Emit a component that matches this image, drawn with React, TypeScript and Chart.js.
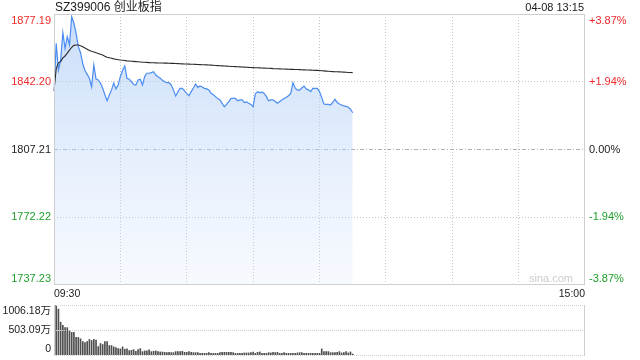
import React, { useEffect, useRef } from 'react';
import { Chart, registerables } from 'chart.js';

Chart.register(...registerables);

const FONT = '"Liberation Sans", Arial, "Noto Sans CJK SC", sans-serif';

const TITLE = 'SZ399006 创业板指';
const STAMP = '04-08 13:15';
const WATERMARK = 'sina.com';
const PREV_CLOSE = 1807.21;
const PRICE_TICKS = [1737.23, 1772.22, 1807.21, 1842.2, 1877.19];
const PRICE_TICK_LABELS = ['1737.23', '1772.22', '1807.21', '1842.20', '1877.19'];
const PCT_TICK_LABELS = ['-3.87%', '-1.94%', '0.00%', '+1.94%', '+3.87%'];
const VOL_TICKS = [0, 503.09, 1006.18];
const VOL_TICK_LABELS = ['0', '503.09万', '1006.18万'];
const TIME_TICK_LABELS = ['09:30', '15:00'];

const buildMinutes = (): string[] => {
  const out: string[] = [];
  const pad = (n: number) => String(n).padStart(2, '0');
  for (let m = 9 * 60 + 30; m <= 11 * 60 + 30; m++) out.push(`${pad(Math.floor(m / 60))}:${pad(m % 60)}`);
  for (let m = 13 * 60 + 1; m <= 15 * 60; m++) out.push(`${pad(Math.floor(m / 60))}:${pad(m % 60)}`);
  return out;
};
const MINUTES = buildMinutes();

const PRICE = [
  1837.4, 1862.1, 1848.3, 1853.4, 1867.5, 1859.5, 1865.5, 1861.2, 1875.8, 1872.4,
  1867.2, 1860.3, 1857.2, 1851.5, 1848.0, 1846.0, 1844.0, 1839.6, 1850.9, 1843.6,
  1843.1, 1841.5, 1838.8, 1835.5, 1832.4, 1835.4, 1838.0, 1841.5, 1838.5, 1840.5,
  1845.0, 1848.0, 1850.4, 1844.0, 1843.5, 1842.3, 1840.8, 1840.5, 1843.1, 1843.5,
  1840.5, 1845.0, 1846.6, 1846.6, 1846.9, 1847.4, 1845.7, 1844.8, 1844.0, 1843.0,
  1842.2, 1841.7, 1841.7, 1840.5, 1838.0, 1834.8, 1837.0, 1838.8, 1838.8, 1837.5,
  1836.2, 1835.0, 1837.1, 1839.0, 1841.0, 1839.3, 1840.0, 1839.5, 1838.8, 1838.5,
  1837.9, 1836.2, 1835.5, 1834.5, 1833.5, 1832.8, 1831.0, 1829.3, 1830.5, 1831.9,
  1833.6, 1833.6, 1833.6, 1832.4, 1832.8, 1832.8, 1831.4, 1831.8, 1831.1, 1830.5,
  1829.3, 1836.0, 1837.1, 1836.6, 1836.8, 1836.2, 1834.5, 1832.4, 1832.8, 1832.8,
  1832.0, 1831.1, 1832.0, 1832.8, 1833.5, 1834.2, 1835.0, 1836.2, 1841.7, 1839.0,
  1837.9, 1837.9, 1839.0, 1840.0, 1838.5, 1838.0, 1837.1, 1838.8, 1838.8, 1838.8,
  1837.1, 1834.0, 1830.7, 1830.5, 1830.5, 1830.2, 1831.5, 1833.1, 1831.5, 1830.7,
  1830.2, 1829.7, 1829.5, 1829.0, 1828.0, 1826.2,
];

const AVG = [
  1837.4, 1849.0, 1852.0, 1852.6, 1854.5, 1855.5, 1857.0, 1858.5, 1860.0, 1861.0,
  1861.2, 1861.2, 1860.8, 1860.3, 1859.6, 1859.0, 1858.4, 1857.9, 1857.6, 1857.2,
  1856.8, 1856.4, 1856.0, 1855.4, 1854.9, 1854.6, 1854.3, 1854.0, 1853.8, 1853.6,
  1853.4, 1853.3, 1853.2, 1853.0, 1852.9, 1852.8, 1852.7, 1852.6, 1852.5, 1852.4,
  1852.3, 1852.25, 1852.2, 1852.1, 1852.0, 1852.0, 1851.95, 1851.9, 1851.9, 1851.85,
  1851.8, 1851.8, 1851.75, 1851.7, 1851.7, 1851.6, 1851.55, 1851.5, 1851.45, 1851.4,
  1851.35, 1851.3, 1851.25, 1851.2, 1851.15, 1851.1, 1851.05, 1851.0, 1850.95, 1850.9,
  1850.85, 1850.8, 1850.7, 1850.6, 1850.55, 1850.5, 1850.4, 1850.3, 1850.25, 1850.2,
  1850.1, 1850.05, 1850.0, 1849.95, 1849.9, 1849.8, 1849.75, 1849.7, 1849.6, 1849.55,
  1849.5, 1849.45, 1849.4, 1849.35, 1849.3, 1849.25, 1849.2, 1849.15, 1849.1, 1849.0,
  1848.95, 1848.9, 1848.85, 1848.8, 1848.75, 1848.7, 1848.65, 1848.6, 1848.6, 1848.55,
  1848.5, 1848.45, 1848.4, 1848.35, 1848.3, 1848.25, 1848.2, 1848.15, 1848.1, 1848.05,
  1848.0, 1847.9, 1847.8, 1847.7, 1847.6, 1847.5, 1847.45, 1847.4, 1847.35, 1847.3,
  1847.2, 1847.15, 1847.1, 1847.0, 1846.95, 1846.9,
];

const VOLUME = [
  170, 1006.18, 924, 659, 598, 551, 551, 483, 455, 455,
  354, 354, 326, 272, 252, 272, 313, 292, 313, 299,
  170, 231, 211, 272, 272, 190, 190, 163, 150, 129,
  122, 163, 116, 122, 88, 95, 109, 75, 109, 129,
  68, 82, 82, 102, 68, 75, 82, 68, 61, 61,
  54, 48, 54, 48, 48, 68, 68, 68, 75, 54,
  54, 68, 54, 48, 48, 48, 34, 34, 34, 34,
  48, 34, 34, 34, 34, 48, 54, 54, 54, 54,
  54, 48, 34, 34, 34, 34, 41, 41, 41, 48,
  61, 34, 54, 61, 34, 34, 34, 48, 41, 54,
  48, 54, 34, 34, 48, 34, 34, 34, 34, 34,
  41, 48, 48, 34, 34, 34, 34, 34, 34, 34,
  34, 122, 68, 68, 68, 48, 48, 48, 54, 68,
  41, 48, 68, 41, 61, 20,
];

const RED = '#ee2a2a';
const GREEN = '#1f9f2a';
const NEUTRAL = '#222222';
const GRID = '#c4c4c4';
const FRAME = '#cfcfcf';

const colorFor = (v: number) =>
  v > PREV_CLOSE + 1e-6 ? RED : v < PREV_CLOSE - 1e-6 ? GREEN : NEUTRAL;

const hLine = (ctx: CanvasRenderingContext2D, x1: number, x2: number, y: number) => {
  ctx.beginPath();
  ctx.moveTo(x1, y);
  ctx.lineTo(x2, y);
  ctx.stroke();
};
const vLine = (ctx: CanvasRenderingContext2D, x: number, y1: number, y2: number) => {
  ctx.beginPath();
  ctx.moveTo(x, y1);
  ctx.lineTo(x, y2);
  ctx.stroke();
};

const mainPlugin = {
  id: 'mainFrame',
  beforeDatasetsDraw(chart: any) {
    const { ctx, chartArea: a, scales } = chart;
    const xs = scales.x;
    const ys = scales.y;
    ctx.save();
    ctx.lineWidth = 1;
    ctx.strokeStyle = GRID;
    ctx.setLineDash([1, 2]);
    for (let i = 30; i < MINUTES.length - 1; i += 30) {
      const px = Math.floor(xs.getPixelForValue(i)) + 0.5;
      vLine(ctx, px, a.top, a.bottom);
    }
    PRICE_TICKS.forEach((v, k) => {
      if (k === 0 || k === PRICE_TICKS.length - 1) return;
      const py = Math.floor(ys.getPixelForValue(v)) + 0.5;
      if (Math.abs(v - PREV_CLOSE) < 1e-6) {
        ctx.strokeStyle = '#b0b0b0';
        ctx.setLineDash([4, 2, 1, 2]);
      } else {
        ctx.strokeStyle = GRID;
        ctx.setLineDash([1, 2]);
      }
      hLine(ctx, a.left, a.right, py);
    });
    ctx.restore();
  },
  afterDraw(chart: any) {
    const { ctx, chartArea: a, scales } = chart;
    const ys = scales.y;
    ctx.save();
    ctx.setLineDash([]);
    ctx.lineWidth = 1;
    ctx.strokeStyle = FRAME;
    ctx.strokeRect(a.left + 0.5, a.top + 0.5, a.right - a.left - 1, a.bottom - a.top - 1);

    ctx.font = `11px ${FONT}`;
    const last = PRICE_TICKS.length - 1;
    PRICE_TICKS.forEach((v, k) => {
      let py = ys.getPixelForValue(v);
      if (k === last) {
        ctx.textBaseline = 'top';
        py += 1;
      } else if (k === 0) {
        ctx.textBaseline = 'bottom';
        py -= 1;
      } else {
        ctx.textBaseline = 'middle';
      }
      ctx.fillStyle = colorFor(v);
      ctx.textAlign = 'right';
      ctx.fillText(PRICE_TICK_LABELS[k], a.left - 3, py);
      ctx.textAlign = 'left';
      ctx.fillText(PCT_TICK_LABELS[k], a.right + 4, py);
    });

    ctx.fillStyle = '#1a1a1a';
    ctx.textBaseline = 'middle';
    ctx.textAlign = 'left';
    ctx.font = `12px ${FONT}`;
    ctx.fillText(TITLE, a.left + 1, 7.5);
    ctx.textAlign = 'right';
    ctx.font = `11px ${FONT}`;
    ctx.fillText(STAMP, a.right - 1, 7.5);

    ctx.fillStyle = '#cccccc';
    ctx.font = `11px ${FONT}`;
    ctx.textAlign = 'right';
    ctx.fillText(WATERMARK, a.right - 12, a.bottom - 6.5);
    ctx.restore();
  },
};

const volPlugin = {
  id: 'volFrame',
  afterDraw(chart: any) {
    const { ctx, chartArea: a, scales } = chart;
    const ys = scales.y;
    ctx.save();
    ctx.lineWidth = 1;
    ctx.strokeStyle = FRAME;
    ctx.setLineDash([]);
    vLine(ctx, a.left + 0.5, a.top, a.bottom + 1);
    vLine(ctx, a.right - 0.5, a.top, a.bottom + 1);
    ctx.setLineDash([1, 1]);
    VOL_TICKS.forEach((v) => {
      const py = Math.floor(ys.getPixelForValue(v)) + 0.5;
      hLine(ctx, a.left, a.right, py);
    });
    ctx.setLineDash([]);
    ctx.font = `10.5px ${FONT}`;
    ctx.fillStyle = '#222222';
    ctx.textAlign = 'right';
    const last = VOL_TICKS.length - 1;
    VOL_TICKS.forEach((v, k) => {
      let py = ys.getPixelForValue(v);
      if (k === last) {
        ctx.textBaseline = 'top';
        py += 1;
      } else if (k === 0) {
        ctx.textBaseline = 'bottom';
        py -= 1;
      } else {
        ctx.textBaseline = 'middle';
      }
      ctx.fillText(VOL_TICK_LABELS[k], a.left - 3, py);
    });
    ctx.restore();
  },
};

export default function App() {
  const mainRef = useRef<HTMLCanvasElement>(null);
  const volRef = useRef<HTMLCanvasElement>(null);

  useEffect(() => {
    const c1 = new Chart(mainRef.current as HTMLCanvasElement, {
      type: 'line',
      data: {
        labels: MINUTES,
        datasets: [
          {
            label: '均价',
            data: AVG,
            borderColor: '#2b2b2b',
            borderWidth: 1.1,
            pointRadius: 0,
            fill: false,
            tension: 0,
          },
          {
            label: '价格',
            data: PRICE,
            borderColor: '#4a8cf0',
            borderWidth: 1.2,
            pointRadius: 0,
            tension: 0,
            fill: 'start',
            backgroundColor: (c: any) => {
              const chart = c.chart;
              const a = chart.chartArea;
              if (!a) return 'rgba(200,220,248,0.5)';
              const g = chart.ctx.createLinearGradient(0, a.top, 0, a.bottom);
              g.addColorStop(0, 'rgba(165,198,245,0.62)');
              g.addColorStop(1, 'rgba(215,230,252,0.22)');
              return g;
            },
          },
        ],
      },
      options: {
        responsive: false,
        animation: false,
        events: [],
        layout: { padding: { left: 54, right: 55, top: 14, bottom: 0 } },
        plugins: {
          legend: { display: false },
          tooltip: { enabled: false },
          title: { display: false },
        },
        scales: {
          x: {
            type: 'category',
            offset: false,
            grid: { display: false, drawTicks: false, tickLength: 0 },
            border: { display: false },
            ticks: {
              autoSkip: false,
              maxRotation: 0,
              minRotation: 0,
              align: 'inner',
              padding: 3,
              color: '#222222',
              font: { family: FONT, size: 10.5 },
              callback: (_v: any, i: number) =>
                i === 0 ? TIME_TICK_LABELS[0] : i === MINUTES.length - 1 ? TIME_TICK_LABELS[1] : '',
            },
            afterFit: (s: any) => {
              s.height = 15;
            },
          },
          y: {
            type: 'linear',
            display: false,
            min: PRICE_TICKS[0],
            max: PRICE_TICKS[PRICE_TICKS.length - 1],
          },
        },
      } as any,
      plugins: [mainPlugin],
    });

    const c2 = new Chart(volRef.current as HTMLCanvasElement, {
      type: 'bar',
      data: {
        labels: MINUTES,
        datasets: [
          {
            label: '成交量',
            data: VOLUME,
            backgroundColor: '#4f4f4f',
            borderWidth: 0,
            barThickness: 1,
          },
        ],
      },
      options: {
        responsive: false,
        animation: false,
        events: [],
        layout: { padding: { left: 54, right: 55, top: 5, bottom: 5 } },
        plugins: { legend: { display: false }, tooltip: { enabled: false } },
        scales: {
          x: { type: 'category', display: false, offset: false },
          y: { type: 'linear', display: false, min: VOL_TICKS[0], max: VOL_TICKS[VOL_TICKS.length - 1] },
        },
      } as any,
      plugins: [volPlugin],
    });

    return () => {
      c1.destroy();
      c2.destroy();
    };
  }, []);

  return (
    <div style={{ position: 'absolute', left: 0, top: 0, width: 640, height: 360, background: '#fff' }}>
      <canvas ref={mainRef} width={640} height={300} style={{ display: 'block', width: 640, height: 300 }} />
      <canvas ref={volRef} width={640} height={60} style={{ display: 'block', width: 640, height: 60 }} />
    </div>
  );
}
